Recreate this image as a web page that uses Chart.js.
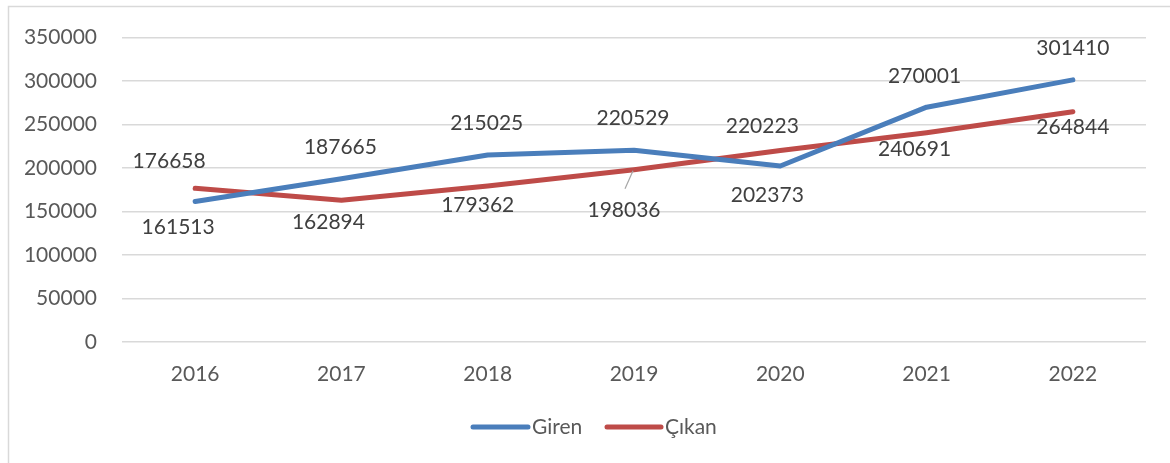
<!DOCTYPE html>
<html>
<head>
<meta charset="utf-8">
<script src="https://cdn.jsdelivr.net/npm/chart.js@4/dist/chart.umd.min.js"></script>
<style>
  html, body { margin: 0; padding: 0; background: #ffffff; }
  #wrap { position: relative; width: 1170px; height: 463px; }
</style>
</head>
<body>
<div id="wrap"><canvas id="c" width="1170" height="463"></canvas></div>
<script>
// ---- data ----
const years = ['2016', '2017', '2018', '2019', '2020', '2021', '2022'];
const giren = [161513, 187665, 215025, 220529, 202373, 270001, 301410];
const cikan = [176658, 162894, 179362, 198036, 220223, 240691, 264844];
const seriesNames = ['Giren', 'Çıkan'];

// ---- label placement (style, in px relative to the point) ----
const girenLabelOffset = [[-17, 26], [-1, -32], [-1, -32], [-1, -32], [-13, 29], [-2, -31], [0, -32]];
const cikanLabelOffset = [[-26, -27], [-13, 22], [-10, 19], [-10, 40], [-18, -24], [-12, 17], [0, 16]];
const leaderLines = [[false, false, false, false, false, false, false], [false, false, false, true, false, false, false]];

const FONT = 'Lato, "Open Sans", "Noto Sans", sans-serif';
const FSIZE = 21;
const BLUE = '#4A7EBB';
const RED = '#BE4B48';

const labelPlugin = {
  id: 'dataLabels',
  afterDatasetsDraw(chart) {
    const ctx = chart.ctx;
    const offsets = [girenLabelOffset, cikanLabelOffset];
    ctx.save();
    ctx.font = FSIZE + 'px ' + FONT;
    ctx.textAlign = 'center';
    ctx.textBaseline = 'middle';
    chart.data.datasets.forEach((ds, di) => {
      const meta = chart.getDatasetMeta(di);
      meta.data.forEach((pt, i) => {
        const [dx, dy] = offsets[di][i];
        const x = pt.x + dx, y = pt.y + dy;
        if (leaderLines[di][i]) {
          ctx.strokeStyle = '#a6a6a6';
          ctx.lineWidth = 1.2;
          ctx.beginPath();
          ctx.moveTo(pt.x - 1, pt.y + 1);
          ctx.lineTo(x + 1, y - 21);
          ctx.stroke();
        }
        ctx.fillStyle = '#404040';
        ctx.fillText(String(ds.data[i]), x, y);
      });
    });
    ctx.restore();
  }
};

const frameLegendPlugin = {
  id: 'frameLegend',
  beforeDraw(chart) {
    const ctx = chart.ctx;
    ctx.save();
    ctx.fillStyle = '#ffffff';
    ctx.fillRect(0, 0, chart.width, chart.height);
    ctx.strokeStyle = '#d9d9d9';
    ctx.lineWidth = 1.5;
    ctx.beginPath();
    ctx.moveTo(8.5, chart.height + 2);
    ctx.lineTo(8.5, 6.5);
    ctx.lineTo(chart.width + 2, 6.5);
    ctx.stroke();
    ctx.restore();
  },
  afterDraw(chart) {
    const ctx = chart.ctx;
    const items = [
      { x0: 473, x1: 528, tx: 532, color: BLUE, text: seriesNames[0] },
      { x0: 607, x1: 661, tx: 665, color: RED, text: seriesNames[1] }
    ];
    const y = 427;
    ctx.save();
    ctx.font = FSIZE + 'px ' + FONT;
    ctx.textAlign = 'left';
    ctx.textBaseline = 'middle';
    items.forEach(it => {
      ctx.strokeStyle = it.color;
      ctx.lineWidth = 5;
      ctx.lineCap = 'round';
      ctx.beginPath();
      ctx.moveTo(it.x0, y);
      ctx.lineTo(it.x1, y);
      ctx.stroke();
      ctx.fillStyle = '#595959';
      ctx.fillText(it.text, it.tx, y);
    });
    ctx.restore();
  }
};

new Chart(document.getElementById('c'), {
  type: 'line',
  data: {
    labels: years,
    datasets: [
      { label: seriesNames[0], data: giren, borderColor: BLUE, backgroundColor: BLUE,
        borderWidth: 5, pointRadius: 0, borderCapStyle: 'round', borderJoinStyle: 'round', tension: 0 },
      { label: seriesNames[1], data: cikan, borderColor: RED, backgroundColor: RED,
        borderWidth: 5, pointRadius: 0, borderCapStyle: 'round', borderJoinStyle: 'round', tension: 0 }
    ]
  },
  options: {
    responsive: false,
    animation: false,
    events: [],
    layout: { padding: { left: 0, right: 24, top: 35, bottom: 0 } },
    plugins: { legend: { display: false }, tooltip: { enabled: false } },
    scales: {
      x: {
        offset: true,
        grid: { display: false, drawTicks: false },
        border: { display: false },
        ticks: { color: '#595959', font: { family: FONT, size: FSIZE }, padding: 20, maxRotation: 0 },
        afterFit(scale) { scale.height = 121; }
      },
      y: {
        min: 0, max: 350000,
        grid: { color: '#d9d9d9', lineWidth: 1.5, drawTicks: false },
        border: { display: false },
        ticks: { stepSize: 50000, color: '#595959', font: { family: FONT, size: FSIZE }, padding: 25,
                 callback: v => String(v) },
        afterFit(scale) { scale.width = 122; }
      }
    }
  },
  plugins: [frameLegendPlugin, labelPlugin]
});
</script>
</body>
</html>
